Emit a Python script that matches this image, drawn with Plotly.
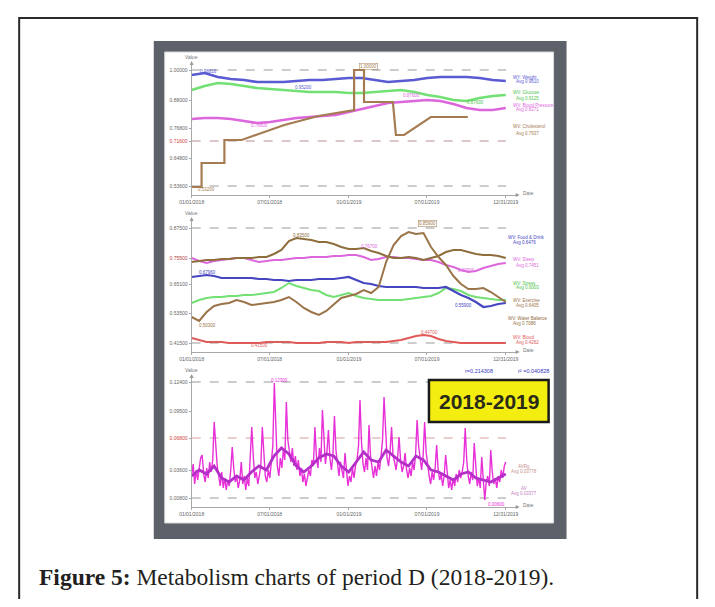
import plotly.graph_objects as go
import pandas as pd

PAGE_W, PAGE_H = 715, 607
OX, OY = 8, 8  # page body margin offset
W, H = PAGE_W - 2 * OX, PAGE_H - 2 * OY
SX, DX = 0.98, 11.0  # horizontal correction observed in rendering


def fx(x):
    return ((x - DX) / SX - OX) / W


def fy(y):
    return 1 - (y - OY) / H


# ---------------- data ----------------
# Panel 1 (monthly readings)
top_dates = pd.date_range("2018-01-01", "2019-12-31", periods=25)
top_weight = [0.980, 0.988, 0.972, 0.964, 0.960, 0.952, 0.952, 0.952, 0.956, 0.960, 0.960, 0.964, 0.968,
              0.968, 0.960, 0.952, 0.956, 0.960, 0.968, 0.972, 0.972, 0.972, 0.968, 0.960, 0.956]
top_glucose = [0.920, 0.936, 0.948, 0.944, 0.936, 0.928, 0.924, 0.920, 0.916, 0.912, 0.912, 0.912, 0.908,
               0.908, 0.912, 0.916, 0.920, 0.912, 0.900, 0.892, 0.880, 0.876, 0.888, 0.896, 0.900]
top_bp = [0.804, 0.808, 0.808, 0.804, 0.796, 0.788, 0.792, 0.800, 0.808, 0.812, 0.816, 0.820, 0.832,
          0.844, 0.856, 0.868, 0.872, 0.876, 0.880, 0.876, 0.864, 0.848, 0.840, 0.840, 0.848]
chol_dates = ["2018-01-01", "2018-01-24", "2018-01-24", "2018-03-18", "2018-03-18", "2018-04-27",
              "2018-08-04", "2018-10-22", "2019-01-13", "2019-01-13", "2019-02-05", "2019-02-05",
              "2019-04-13", "2019-04-20", "2019-05-09", "2019-07-10", "2019-10-04"]
chol_vals = [0.532, 0.532, 0.628, 0.628, 0.720, 0.720, 0.780, 0.816, 0.840, 1.000, 1.000, 0.872,
             0.872, 0.740, 0.740, 0.812, 0.812]

# Panel 2 (readings every ~17 days)
mid_dates = pd.date_range("2018-01-01", "2019-12-31", periods=43)
mid_exercise = [0.519, 0.503, 0.539, 0.563, 0.571, 0.575, 0.587, 0.579, 0.567, 0.571, 0.575, 0.579, 0.587,
                0.599, 0.579, 0.555, 0.539, 0.527, 0.543, 0.571, 0.595, 0.603, 0.611, 0.627, 0.615, 0.639,
                0.739, 0.807, 0.843, 0.859, 0.851, 0.855, 0.799, 0.759, 0.727, 0.683, 0.651, 0.631, 0.631,
                0.635, 0.619, 0.599, 0.579]
mid_water = [0.739, 0.743, 0.747, 0.747, 0.751, 0.751, 0.755, 0.755, 0.755, 0.759, 0.759, 0.771, 0.787,
             0.823, 0.835, 0.831, 0.827, 0.819, 0.819, 0.811, 0.799, 0.791, 0.791, 0.795, 0.783, 0.775,
             0.763, 0.755, 0.755, 0.759, 0.755, 0.747, 0.755, 0.763, 0.779, 0.787, 0.787, 0.779, 0.771,
             0.767, 0.767, 0.763, 0.755]
mid_sleep = [0.755, 0.743, 0.735, 0.743, 0.747, 0.751, 0.755, 0.755, 0.747, 0.739, 0.743, 0.747, 0.747,
             0.751, 0.755, 0.755, 0.759, 0.759, 0.759, 0.763, 0.763, 0.767, 0.767, 0.759, 0.747, 0.751,
             0.759, 0.759, 0.755, 0.755, 0.751, 0.747, 0.747, 0.739, 0.727, 0.719, 0.707, 0.699, 0.703,
             0.715, 0.723, 0.731, 0.735]
mid_food = [0.679, 0.683, 0.687, 0.683, 0.675, 0.675, 0.675, 0.675, 0.675, 0.671, 0.671, 0.667, 0.667,
            0.663, 0.667, 0.667, 0.667, 0.671, 0.671, 0.671, 0.675, 0.679, 0.667, 0.655, 0.651, 0.643,
            0.639, 0.639, 0.639, 0.639, 0.639, 0.635, 0.635, 0.635, 0.639, 0.623, 0.607, 0.595, 0.579,
            0.559, 0.563, 0.571, 0.575]
mid_stress = [0.575, 0.587, 0.595, 0.599, 0.599, 0.603, 0.603, 0.607, 0.607, 0.611, 0.615, 0.619, 0.635,
              0.655, 0.643, 0.635, 0.627, 0.623, 0.607, 0.599, 0.607, 0.615, 0.603, 0.595, 0.591, 0.587,
              0.587, 0.587, 0.587, 0.591, 0.595, 0.599, 0.603, 0.615, 0.635, 0.631, 0.623, 0.607, 0.599,
              0.595, 0.591, 0.587, 0.587]
mid_blood = [0.435, 0.427, 0.419, 0.419, 0.419, 0.415, 0.415, 0.415, 0.415, 0.415, 0.419, 0.419, 0.419,
             0.419, 0.415, 0.415, 0.415, 0.415, 0.419, 0.419, 0.419, 0.415, 0.419, 0.419, 0.419, 0.419,
             0.419, 0.423, 0.427, 0.435, 0.443, 0.447, 0.443, 0.431, 0.423, 0.419, 0.415, 0.415, 0.415,
             0.415, 0.415, 0.415, 0.415]

# Panel 3 (frequent readings)
day_dates = pd.date_range("2018-01-01", "2019-12-31", periods=210)
avrg = [0.030, 0.042, 0.022, 0.036, 0.026, 0.040, 0.048, 0.051, 0.032, 0.024, 0.038, 0.028, 0.044, 0.034, 0.046,
        0.084, 0.062, 0.040, 0.030, 0.020, 0.034, 0.018, 0.028, 0.016, 0.026, 0.020, 0.036, 0.059, 0.038, 0.024,
        0.030, 0.018, 0.026, 0.044, 0.022, 0.030, 0.016, 0.028, 0.020, 0.046, 0.079, 0.050, 0.028, 0.034, 0.022,
        0.030, 0.040, 0.079, 0.052, 0.030, 0.024, 0.036, 0.028, 0.044, 0.060, 0.123, 0.070, 0.040, 0.030, 0.048,
        0.038, 0.056, 0.046, 0.104, 0.066, 0.052, 0.044, 0.058, 0.040, 0.050, 0.036, 0.046, 0.030, 0.038, 0.024,
        0.032, 0.020, 0.028, 0.036, 0.030, 0.046, 0.040, 0.079, 0.050, 0.038, 0.058, 0.044, 0.096, 0.060, 0.042,
        0.054, 0.076, 0.048, 0.036, 0.052, 0.090, 0.056, 0.040, 0.030, 0.044, 0.034, 0.028, 0.053, 0.032, 0.020,
        0.030, 0.024, 0.038, 0.028, 0.040, 0.046, 0.060, 0.106, 0.064, 0.042, 0.034, 0.048, 0.036, 0.081, 0.050,
        0.036, 0.028, 0.040, 0.030, 0.044, 0.036, 0.050, 0.066, 0.109, 0.070, 0.048, 0.040, 0.054, 0.079, 0.050,
        0.044, 0.036, 0.048, 0.069, 0.046, 0.034, 0.040, 0.053, 0.036, 0.028, 0.038, 0.030, 0.044, 0.036, 0.052,
        0.086, 0.060, 0.044, 0.036, 0.050, 0.084, 0.054, 0.040, 0.030, 0.022, 0.034, 0.026, 0.038, 0.061, 0.036,
        0.026, 0.032, 0.020, 0.030, 0.051, 0.030, 0.018, 0.026, 0.016, 0.028, 0.020, 0.032, 0.024, 0.036, 0.028,
        0.034, 0.044, 0.078, 0.046, 0.030, 0.022, 0.034, 0.026, 0.063, 0.036, 0.020, 0.028, 0.018, 0.049, 0.026,
        0.006, 0.024, 0.030, 0.020, 0.056, 0.034, 0.022, 0.028, 0.018, 0.030, 0.024, 0.036, 0.028, 0.040, 0.044]
av = [0.030, 0.036, 0.032, 0.040, 0.028, 0.024, 0.030, 0.026, 0.034, 0.040, 0.036, 0.050, 0.058, 0.052,
      0.040, 0.034, 0.040, 0.048, 0.052, 0.050, 0.040, 0.034, 0.044, 0.054, 0.046, 0.044, 0.056, 0.050,
      0.044, 0.040, 0.050, 0.046, 0.036, 0.034, 0.030, 0.026, 0.032, 0.034, 0.028, 0.026, 0.024, 0.028, 0.032]

date_ticks = ["2018-01-01", "2018-07-01", "2019-01-01", "2019-07-01", "2019-12-31"]
date_labels = ["01/01/2018", "07/01/2018", "01/01/2019", "07/01/2019", "12/31/2019"]

top_ticks = [1.0, 0.88, 0.768, 0.716, 0.648, 0.536]
top_labels = ["1.00000", "0.88000", "0.76800", "<span style='color:#d04040'>0.71600</span>", "0.64800", "0.53600"]
mid_ticks = [0.875, 0.755, 0.651, 0.535, 0.415]
mid_labels = ["0.87500", "<span style='color:#b04040'>0.75500</span>", "0.65100", "0.53500", "0.41500"]
bot_ticks = [0.124, 0.095, 0.068, 0.036, 0.008]
bot_labels = ["0.12400", "0.09500", "<span style='color:#d04040'>0.06800</span>", "0.03600", "0.00800"]

# ---------------- figure ----------------
fig = go.Figure()

BLUE = "#5a5ad2"
GREEN = "#72e072"
MAG = "#dc66dc"
BROWN = "#a57c52"
BROWN2 = "#8f6e3e"
RED = "#e05a5a"

fig.add_trace(go.Scatter(x=top_dates, y=top_weight, mode="lines", line=dict(color=BLUE, width=2.6), xaxis="x", yaxis="y"))
fig.add_trace(go.Scatter(x=top_dates, y=top_glucose, mode="lines", line=dict(color=GREEN, width=2.6), xaxis="x", yaxis="y"))
fig.add_trace(go.Scatter(x=top_dates, y=top_bp, mode="lines", line=dict(color=MAG, width=2.6), xaxis="x", yaxis="y"))
fig.add_trace(go.Scatter(x=chol_dates, y=chol_vals, mode="lines", line=dict(color=BROWN, width=2.2), xaxis="x", yaxis="y"))

fig.add_trace(go.Scatter(x=mid_dates, y=mid_blood, mode="lines", line=dict(color=RED, width=2), xaxis="x2", yaxis="y2"))
fig.add_trace(go.Scatter(x=mid_dates, y=mid_stress, mode="lines", line=dict(color=GREEN, width=2), xaxis="x2", yaxis="y2"))
fig.add_trace(go.Scatter(x=mid_dates, y=mid_food, mode="lines", line=dict(color="#4646c0", width=2.2), xaxis="x2", yaxis="y2"))
fig.add_trace(go.Scatter(x=mid_dates, y=mid_sleep, mode="lines", line=dict(color=MAG, width=2), xaxis="x2", yaxis="y2"))
fig.add_trace(go.Scatter(x=mid_dates, y=mid_water, mode="lines", line=dict(color=BROWN2, width=2), xaxis="x2", yaxis="y2"))
fig.add_trace(go.Scatter(x=mid_dates, y=mid_exercise, mode="lines", line=dict(color="#9a7448", width=2), xaxis="x2", yaxis="y2"))

fig.add_trace(go.Scatter(x=day_dates, y=avrg, mode="lines", line=dict(color="#e830d8", width=1.4), xaxis="x3", yaxis="y3"))
fig.add_trace(go.Scatter(x=mid_dates, y=av, mode="lines", line=dict(color="#b42ec8", width=2.8), xaxis="x3", yaxis="y3"))

x_range = ["2018-01-01", "2020-01-23"]
xdom = [fx(190), fx(515)]
axis_font = dict(family="Liberation Sans", size=5, color="#666")


def xaxis_cfg(anchor):
    return dict(domain=xdom, range=x_range, type="date", anchor=anchor, tickvals=date_ticks, ticktext=date_labels,
                showline=True, linecolor="#a8a8a8", linewidth=1, showgrid=False, zeroline=False,
                ticks="outside", ticklen=2, tickcolor="#a8a8a8", tickfont=axis_font)


def yaxis_cfg(anchor, dom, rng, tv, tt):
    return dict(domain=dom, range=rng, anchor=anchor, tickvals=tv, ticktext=tt, showline=True,
                linecolor="#a8a8a8", linewidth=1, showgrid=False, zeroline=False, ticks="outside",
                ticklen=2, tickcolor="#a8a8a8", tickfont=axis_font)


shapes = []
# outer figure border
shapes.append(dict(type="rect", xref="paper", yref="paper", x0=fx(17), x1=fx(697), y0=fy(630), y1=fy(18),
                   line=dict(color="#2a2a2a", width=2), fillcolor="white", layer="below"))
# screenshot frame
shapes.append(dict(type="rect", xref="paper", yref="paper", x0=fx(152), x1=fx(566), y0=fy(539), y1=fy(41),
                   line=dict(width=0), fillcolor="#5d6169", layer="below"))
shapes.append(dict(type="rect", xref="paper", yref="paper", x0=fx(163), x1=fx(553), y0=fy(523), y1=fy(52),
                   line=dict(color="#d8d8d8", width=1), fillcolor="white", layer="below"))


def hdash(xa, ya, yv, color="#9a9a9a"):
    shapes.append(dict(type="line", xref=xa + " domain", yref=ya, x0=0, x1=0.97, y0=yv, y1=yv,
                       line=dict(color=color, width=1.2, dash="dash"), layer="below"))


hdash("x", "y", 1.0)
hdash("x", "y", 0.716, "#b89090")
hdash("x", "y", 0.536)
hdash("x2", "y2", 0.875)
hdash("x2", "y2", 0.415)
hdash("x3", "y3", 0.124)
hdash("x3", "y3", 0.068, "#d8a0a0")
hdash("x3", "y3", 0.008)


def tri(points, color="#999"):
    d = "M " + " L ".join(f"{fx(a):.5f},{fy(b):.5f}" for a, b in points) + " Z"
    shapes.append(dict(type="path", xref="paper", yref="paper", path=d, fillcolor=color,
                       line=dict(width=0), layer="above"))


# axis arrows
for ay in [62, 218, 375]:
    tri([(188, ay + 3), (192, ay + 3), (190, ay - 1)])
for ax_y in [195, 352, 507]:
    tri([(515, ax_y - 2), (515, ax_y + 2), (519, ax_y)])

# yellow period box
shapes.append(dict(type="rect", xref="paper", yref="paper", x0=fx(428), x1=fx(548), y0=fy(422), y1=fy(380),
                   line=dict(color="#1a1a1a", width=2.5), fillcolor="#f3ee10", layer="above"))

annotations = []


def ann(x, y, text, color="#666", size=4.5, xanchor="left", family="Liberation Sans", **kw):
    annotations.append(dict(x=fx(x), y=fy(y), xref="paper", yref="paper", text=text, showarrow=False,
                            xanchor=xanchor, yanchor="middle", font=dict(family=family, size=size, color=color), **kw))


# axis titles
for yv in [57, 213, 370]:
    ann(190, yv, "Value", "#777", 5, "center")
for yv in [195, 352, 507]:
    ann(520, yv - 2, "Date", "#777", 5, "left")

# panel 1 legend texts
ann(510, 77, "WY: Weight", BLUE)
ann(513, 82, "Avg 0.9610", BLUE)
ann(510, 93, "WV: Glucose", "#4cc44c")
ann(513, 98, "Avg 0.9125", "#4cc44c")
ann(510, 105, "WV: Blood Pressure", MAG)
ann(513, 110, "Avg 0.8271", MAG)
ann(510, 127, "WV: Cholesterol", BROWN)
ann(513, 133, "Avg 0.7937", BROWN)
# panel 1 line labels
ann(196, 72, "0.98816", BLUE, 4.5)
ann(292, 87, "0.95200", BLUE, 4.5)
ann(248, 125, "0.78800", MAG, 4.5)
ann(400, 96, "0.87600", MAG, 4.5)
ann(464, 102, "0.87600", "#4cc44c", 4.5)
ann(358, 66, "1.00000", BROWN, 4.5, bordercolor=BROWN, borderwidth=0.5, borderpad=0.5)
ann(194, 190, "0.53200", BROWN, 4.5)

# panel 2 legend texts
ann(505, 237, "WV: Food & Drink", "#4646c0")
ann(510, 242, "Avg 0.6476", "#4646c0")
ann(510, 260, "WV: Sleep", MAG)
ann(513, 265, "Avg 0.7451", MAG)
ann(510, 283, "WV: Stress", "#4cc44c")
ann(513, 288, "Avg 0.6003", "#4cc44c")
ann(510, 300, "WV: Exercise", "#9a7448")
ann(513, 305, "Avg 0.6405", "#9a7448")
ann(505, 318, "WV: Water Balance", BROWN2)
ann(510, 323, "Avg 0.7086", BROWN2)
ann(510, 337, "WV: Blood", RED)
ann(513, 342, "Avg 0.4262", RED)
# panel 2 line labels
ann(290, 235, "0.83500", BROWN2, 4.5)
ann(358, 247, "0.76700", MAG, 4.5)
ann(417, 223, "0.85900", "#9a7448", 4.5, bordercolor="#9a7448", borderwidth=0.5, borderpad=0.5)
ann(195, 272, "0.67960", "#4646c0", 4.5)
ann(195, 326, "0.50300", "#9a7448", 4.5)
ann(452, 305, "0.55900", "#4646c0", 4.5)
ann(455, 270, "0.69900", MAG, 4.5)
ann(418, 333, "0.44700", RED, 4.5)
ann(248, 345, "0.41500", RED, 4.5)

# panel 3 texts
ann(268, 380, "0.12300", "#e830d8", 4.5)
ann(485, 504, "0.00600", "#e830d8", 4.5)
ann(515, 466, "AVRg", "#c89090")
ann(508, 471, "Avg 0.03778", "#c89090")
ann(518, 488, "AV", "#c080c0")
ann(508, 493, "Avg 0.03377", "#c080c0")
ann(462, 371, "r=0.214308", "#3838c0", 5.5)
ann(515, 371, "r² =0.040828", "#3838c0", 5.5)
ann(488, 401, "<b>2018-2019</b>", "#2a2a18", 21, "center")

# caption
ann(35, 577, "<b>Figure 5:</b> Metabolism charts of period D (2018-2019).", "#231f20", 23.5, "left",
    family="Liberation Serif")

fig.update_layout(
    width=W, height=H, autosize=False,
    margin=dict(l=0, r=0, t=0, b=0),
    paper_bgcolor="white", plot_bgcolor="rgba(0,0,0,0)",
    showlegend=False, hovermode=False,
    xaxis=xaxis_cfg("y"),
    xaxis2=xaxis_cfg("y2"),
    xaxis3=xaxis_cfg("y3"),
    yaxis=yaxis_cfg("x", [fy(195), fy(62)], [0.50, 1.032], top_ticks, top_labels),
    yaxis2=yaxis_cfg("x2", [fy(352), fy(218)], [0.379, 0.915], mid_ticks, mid_labels),
    yaxis3=yaxis_cfg("x3", [fy(507), fy(375)], [-0.001, 0.131], bot_ticks, bot_labels),
    shapes=shapes,
    annotations=annotations,
)

fig.write_html("out.html")
